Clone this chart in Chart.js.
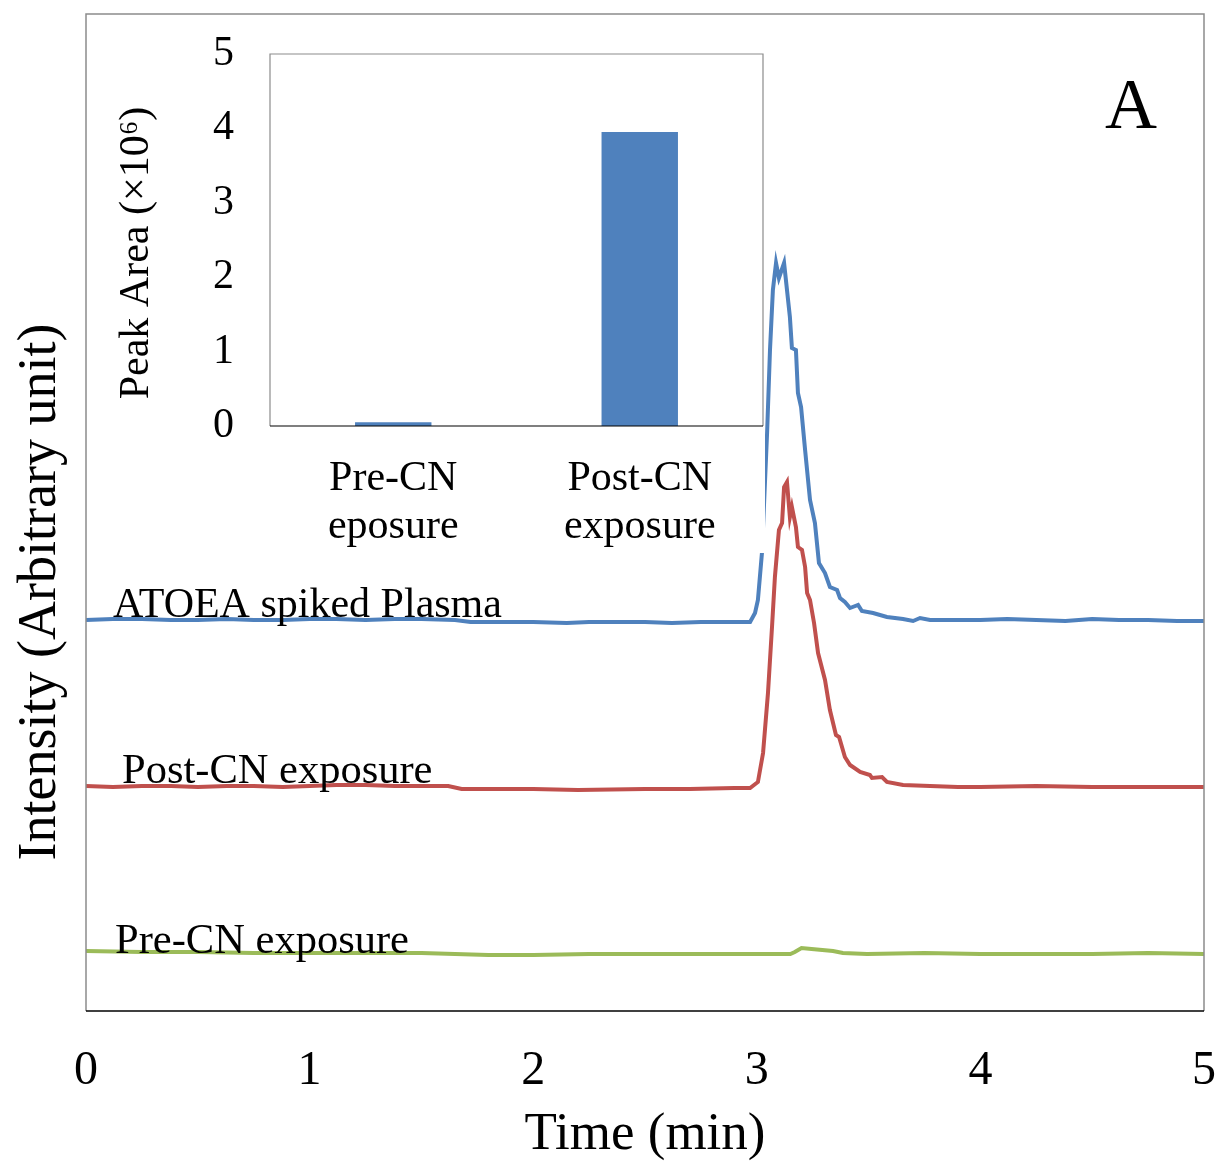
<!DOCTYPE html>
<html>
<head>
<meta charset="utf-8">
<script src="https://cdn.jsdelivr.net/npm/chart.js@4.4.1/dist/chart.umd.min.js"></script>
<style>
  html, body { margin: 0; padding: 0; background: #fff; }
  #wrap { position: relative; width: 1220px; height: 1167px; }
  #main { position: absolute; left: 0; top: 0; width: 1220px; height: 1167px; }
  #inset { position: absolute; left: 100px; top: 20px; width: 665px; height: 533px; background: #fff; }
</style>
</head>
<body>
<div id="wrap">
  <div id="main"><canvas id="chromChart"></canvas></div>
  <div id="inset"><canvas id="areaChart"></canvas></div>
</div>
<script>
// chromatogram traces: time (min) / intensity (arbitrary unit)
const spikedTime = [0, 0.12, 0.25, 0.38, 0.5, 0.63, 0.75, 0.88, 1.0, 1.12, 1.25, 1.38, 1.5, 1.65, 1.72, 1.85, 2.0, 2.15, 2.25, 2.4, 2.5, 2.62, 2.75, 2.88, 2.97,
  2.992, 3.005, 3.023, 3.028, 3.046, 3.059, 3.072, 3.086, 3.099, 3.122, 3.148, 3.157, 3.175, 3.184, 3.198, 3.216, 3.238, 3.26, 3.278,
  3.305, 3.327, 3.359, 3.372, 3.394, 3.417, 3.453, 3.47, 3.52, 3.582, 3.654, 3.699, 3.73, 3.775, 3.9, 4.0, 4.12, 4.25, 4.38, 4.5, 4.62, 4.75, 4.88, 5.0];
const spikedSignal = [391, 392, 392, 391, 391, 392, 391, 391, 392, 392, 391, 392, 392, 391, 389, 389, 389, 388, 389, 389, 389, 388, 389, 389, 389,
  398, 411, 458, 484, 578, 661, 721, 748, 733, 748, 694, 663, 661, 618, 604, 561, 511, 488, 448,
  438, 424, 421, 413, 409, 403, 406, 400, 398, 394, 392, 390, 393, 391, 391, 391, 392, 391, 390, 392, 391, 391, 390, 390];

const postTime = [0, 0.12, 0.25, 0.38, 0.5, 0.63, 0.75, 0.88, 1.0, 1.12, 1.25, 1.38, 1.5, 1.62, 1.68, 1.8, 2.0, 2.2, 2.5, 2.7, 2.9, 2.97,
  3.005, 3.028, 3.05, 3.068, 3.081, 3.099, 3.113, 3.122, 3.135, 3.148, 3.157, 3.175, 3.184, 3.202, 3.216, 3.225, 3.238, 3.256, 3.274,
  3.305, 3.327, 3.354, 3.368, 3.394, 3.417, 3.462, 3.506, 3.515, 3.56, 3.582, 3.654, 3.775, 3.9, 4.0, 4.25, 4.5, 4.75, 5.0];
const postSignal = [225, 224, 225, 225, 224, 225, 225, 224, 225, 226, 226, 225, 225, 225, 222, 222, 222, 221, 222, 222, 223, 223,
  229, 258, 318, 384, 434, 481, 488, 524, 529, 494, 504, 484, 464, 461, 444, 418, 411, 388, 358,
  331, 301, 276, 274, 254, 246, 239, 236, 233, 234, 229, 226, 225, 224, 224, 225, 224, 224, 224];

const preTime = [0, 0.25, 0.5, 0.75, 1.0, 1.25, 1.5, 1.8, 2.0, 2.25, 2.5, 2.75, 2.9, 3.15, 3.17, 3.2, 3.245, 3.341, 3.385, 3.493, 3.75, 4.0, 4.25, 4.5, 4.75, 5.0];
const preSignal = [60, 59, 59, 58, 58, 58, 58, 56, 56, 57, 57, 57, 57, 57, 59, 63, 62, 60, 58, 57, 58, 57, 57, 57, 58, 57];

const timeTicks = [0, 1, 2, 3, 4, 5];

// inset: integrated peak area
const areaCategories = [['Pre-CN', 'eposure'], ['Post-CN', 'exposure']];
const areaValues = [0.05, 3.95];

const serif = '"Liberation Serif", "Times New Roman", serif';

const traceLabels = [
  { text: 'ATOEA spiked Plasma', x: 0.121, y: 394, size: 42, align: 'left' },
  { text: 'Post-CN exposure', x: 0.161, y: 228, size: 42.5, align: 'left' },
  { text: 'Pre-CN exposure', x: 0.13, y: 58, size: 42.5, align: 'left' },
  { text: 'A', x: 4.673, y: 883, size: 72, align: 'center' }
];

const toXY = (xs, ys) => xs.map((x, i) => ({ x: x, y: ys[i] }));

function drawFrame(ctx, a, width) {
  ctx.lineWidth = width;
  ctx.strokeStyle = '#8c8c8c';
  ctx.beginPath();
  ctx.moveTo(a.left, a.bottom);
  ctx.lineTo(a.left, a.top);
  ctx.lineTo(a.right, a.top);
  ctx.lineTo(a.right, a.bottom);
  ctx.stroke();
  ctx.strokeStyle = '#000';
  ctx.beginPath();
  ctx.moveTo(a.left, a.bottom);
  ctx.lineTo(a.right, a.bottom);
  ctx.stroke();
}

function drawRotatedTitle(ctx, text, x, y, size) {
  ctx.save();
  ctx.translate(x, y);
  ctx.rotate(-Math.PI / 2);
  ctx.fillStyle = '#000';
  ctx.font = size + 'px ' + serif;
  ctx.textAlign = 'center';
  ctx.textBaseline = 'middle';
  ctx.fillText(text, 0, 0);
  ctx.restore();
}

const chromDecor = {
  id: 'chromDecor',
  afterDatasetsDraw(chart) {
    const { ctx, chartArea: a, scales } = chart;
    ctx.save();
    ctx.fillStyle = '#000';
    ctx.textBaseline = 'alphabetic';
    traceLabels.forEach(l => {
      ctx.font = l.size + 'px ' + serif;
      ctx.textAlign = l.align;
      ctx.fillText(l.text, scales.x.getPixelForValue(l.x), scales.y.getPixelForValue(l.y));
    });
    drawFrame(ctx, a, 1.5);
    ctx.restore();
    // y axis title sits a bit below the plot centre
    drawRotatedTitle(ctx, 'Intensity (Arbitrary unit)', 41, 592, 54);
  }
};

const insetDecor = {
  id: 'insetDecor',
  afterDatasetsDraw(chart) {
    chart.ctx.save();
    drawFrame(chart.ctx, chart.chartArea, 1.2);
    chart.ctx.restore();
    drawRotatedTitle(chart.ctx, 'Peak Area (×10⁶)', 37, 233, 42);
  }
};

function traceDataset(label, xs, ys, color) {
  return {
    label: label,
    data: toXY(xs, ys),
    borderColor: color,
    borderWidth: 4,
    pointRadius: 0,
    tension: 0,
    fill: false
  };
}

new Chart(document.getElementById('chromChart'), {
  type: 'line',
  data: {
    datasets: [
      traceDataset('ATOEA spiked Plasma', spikedTime, spikedSignal, '#4F81BD'),
      traceDataset('Post-CN exposure', postTime, postSignal, '#C0504D'),
      traceDataset('Pre-CN exposure', preTime, preSignal, '#9BBB59')
    ]
  },
  options: {
    responsive: true,
    maintainAspectRatio: false,
    animation: false,
    layout: { padding: { top: 14, right: 16, left: 0, bottom: 0 } },
    plugins: { legend: { display: false }, tooltip: { enabled: false } },
    scales: {
      x: {
        type: 'linear',
        min: 0,
        max: 5,
        afterBuildTicks: (scale) => { scale.ticks = timeTicks.map(v => ({ value: v })); },
        afterFit: (scale) => { scale.height = 156; scale.paddingLeft = 0; scale.paddingRight = 0; },
        grid: { display: false },
        border: { display: false },
        ticks: { color: '#000', font: { family: serif, size: 48 }, padding: 24, maxRotation: 0 },
        title: { display: true, text: 'Time (min)', color: '#000', font: { family: serif, size: 53 }, padding: { top: 0, bottom: 0 } }
      },
      y: {
        min: 0,
        max: 997,
        afterFit: (scale) => { scale.width = 86; scale.paddingTop = 0; scale.paddingBottom = 0; },
        grid: { display: false },
        border: { display: false },
        ticks: { display: false }
      }
    }
  },
  plugins: [chromDecor]
});

new Chart(document.getElementById('areaChart'), {
  type: 'bar',
  data: {
    labels: areaCategories,
    datasets: [{
      data: areaValues,
      backgroundColor: '#4F81BD',
      barPercentage: 0.31,
      categoryPercentage: 1
    }]
  },
  options: {
    responsive: true,
    maintainAspectRatio: false,
    animation: false,
    layout: { padding: { top: 34, right: 2, left: 0, bottom: 0 } },
    plugins: { legend: { display: false }, tooltip: { enabled: false } },
    scales: {
      x: {
        afterFit: (scale) => { scale.height = 127; scale.paddingLeft = 0; scale.paddingRight = 0; },
        grid: { display: false },
        border: { display: false },
        ticks: { color: '#000', font: { family: serif, size: 42, lineHeight: 1.15 }, padding: 21, maxRotation: 0 }
      },
      y: {
        min: 0,
        max: 5,
        afterFit: (scale) => { scale.width = 170; scale.paddingTop = 0; scale.paddingBottom = 0; },
        grid: { display: false },
        border: { display: false },
        ticks: { color: '#000', font: { family: serif, size: 42 }, stepSize: 1, padding: 28 }
      }
    }
  },
  plugins: [insetDecor]
});
</script>
</body>
</html>
